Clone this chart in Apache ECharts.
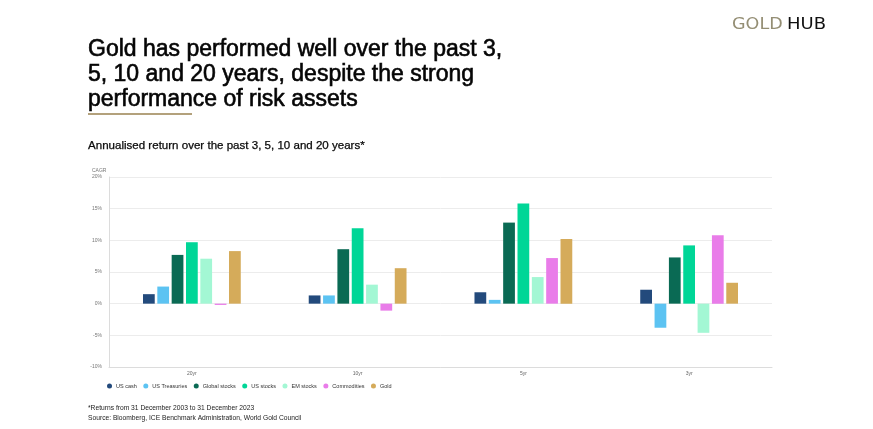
<!DOCTYPE html>
<html>
<head>
<meta charset="utf-8">
<script src="https://cdn.jsdelivr.net/npm/echarts@6/dist/echarts.min.js"></script>
<style>
html,body{margin:0;padding:0;background:#fff;}
#c{width:873px;height:429px;}
</style>
</head>
<body>
<div id="c"></div>
<script>
const categories = ['20yr', '10yr', '5yr', '3yr'];
const seriesNames = ['US cash', 'US Treasuries', 'Global stocks', 'US stocks', 'EM stocks', 'Commodities', 'Gold'];
const usCash = [1.5, 1.3, 1.8, 2.2];
const usTreasuries = [2.7, 1.3, 0.6, -3.8];
const globalStocks = [7.7, 8.6, 12.8, 7.3];
const usStocks = [9.7, 11.9, 15.8, 9.2];
const emStocks = [7.1, 3.0, 4.2, -4.6];
const commodities = [-0.2, -1.1, 7.2, 10.8];
const gold = [8.3, 5.6, 10.2, 3.3];
const yTicks = { min: -10, max: 20, interval: 5 };

const colors = ['#234a7c', '#5cc3f2', '#0a6a54', '#00d697', '#a3f7d4', '#e97ce9', '#d5ab5a'];
const allData = [usCash, usTreasuries, globalStocks, usStocks, emStocks, commodities, gold];

const chart = echarts.init(document.getElementById('c'), null, { renderer: 'canvas' });
const font = 'Liberation Sans, Arial, sans-serif';

chart.setOption({
  animation: false,
  backgroundColor: '#fff',
  color: colors,
  textStyle: { fontFamily: font },
  title: [
    {
      text: 'Gold has performed well over the past 3,\n5, 10 and 20 years, despite the strong\nperformance of risk assets',
      left: 83, top: 32,
      textStyle: { fontSize: 23, fontWeight: 'normal', color: '#050505', lineHeight: 25, fontFamily: font,
                   textBorderColor: '#050505', textBorderWidth: 0.6 }
    },
    {
      text: '*Returns from 31 December 2003 to 31 December 2023\nSource: Bloomberg, ICE Benchmark Administration, World Gold Council',
      left: 83, top: 398,
      textStyle: { fontSize: 6.7, fontWeight: 'normal', color: '#222', lineHeight: 10, fontFamily: font }
    },
    {
      text: 'CAGR',
      left: 87, top: 163,
      textStyle: { fontSize: 5, fontWeight: 'normal', color: '#777', fontFamily: font }
    }
  ],
  graphic: [
    { type: 'rect', shape: { x: 88, y: 113, width: 104, height: 2 }, style: { fill: '#b3a17c' } },
    { type: 'text', x: 88, y: 146, scaleX: 1.1, style: { text: 'Annualised return over the past 3, 5, 10 and 20 years*', fill: '#0a0a0a', font: '10.5px ' + font, textVerticalAlign: 'middle', stroke: '#0a0a0a', lineWidth: 0.25 } },
    { type: 'text', x: 732, y: 18, scaleX: 1.17, style: { text: 'GOLD', fill: '#948e74', font: '15px DejaVu Sans', textVerticalAlign: 'top' } },
    { type: 'text', x: 787, y: 18, scaleX: 1.2, style: { text: 'HUB', fill: '#111', font: '15px DejaVu Sans', textVerticalAlign: 'top' } }
  ],
  legend: {
    data: seriesNames,
    left: 102, top: 378,
    icon: 'circle',
    itemWidth: 5, itemHeight: 5, itemGap: 6.5,
    textStyle: { fontSize: 5.5, color: '#333', fontFamily: font, padding: [0, 0, 0, -1] }
  },
  grid: { left: 109, right: 101, top: 177, bottom: 62 },
  xAxis: {
    type: 'category',
    data: categories,
    axisLine: { onZero: false, lineStyle: { color: '#dcdcdc', width: 1 } },
    axisTick: { show: false },
    axisLabel: { fontSize: 5, color: '#666', margin: 4 }
  },
  yAxis: {
    type: 'value',
    min: yTicks.min, max: yTicks.max, interval: yTicks.interval,
    axisLine: { show: true, lineStyle: { color: '#dcdcdc' } },
    axisTick: { show: false },
    axisLabel: { fontSize: 5, color: '#777', margin: 7, formatter: v => v + '%' },
    splitLine: { lineStyle: { color: '#ececec' } }
  },
  series: seriesNames.map((name, i) => ({
    name: name,
    type: 'bar',
    data: allData[i],
    barCategoryGap: '41%',
    barGap: '22%'
  }))
});
</script>
</body>
</html>
